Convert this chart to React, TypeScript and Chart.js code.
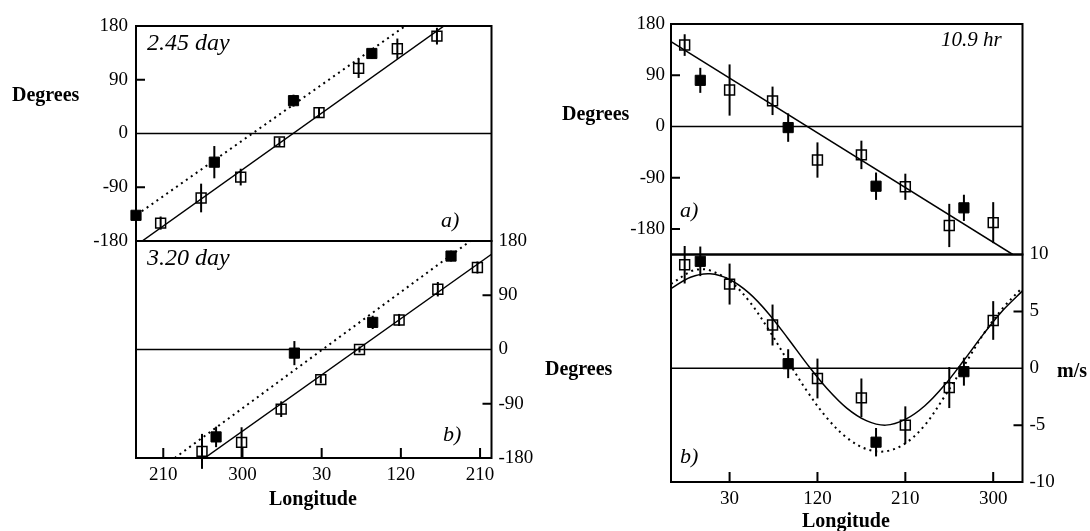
import React, { useEffect, useRef } from "react";
import { Chart, registerables } from "chart.js";

Chart.register(...registerables);

const SERIF = '"Liberation Serif", "Times New Roman", serif';

// ---------- axis ticks ----------
const LEFT_LON_TICKS = [210, 300, 390, 480, 570];
const LEFT_LON_LABELS = ["210", "300", "30", "120", "210"];
const RIGHT_LON_TICKS = [30, 120, 210, 300];
const RIGHT_LON_LABELS = ["30", "120", "210", "300"];
const DEG_TICKS = [-180, -90, 0, 90, 180];
const DEG_LABELS = ["-180", "-90", "0", "90", "180"];
const MS_TICKS = [-10, -5, 0, 5, 10];
const MS_LABELS = ["-10", "-5", "0", "5", "10"];

// ---------- 2.45 day panel (a) ----------
const D245_OPEN_LON = [207, 253, 298, 342, 387, 432, 476, 521];
const D245_OPEN_DEG = [-150, -108, -73, -14, 35, 109, 142, 163];
const D245_OPEN_ERR = [11, 24, 14, 7, 9, 16, 17, 14];
const D245_FILL_LON = [179, 268, 358, 447];
const D245_FILL_DEG = [-137, -48, 55, 134];
const D245_FILL_ERR = [6, 27, 10, 9];
const D245_FIT_LON = [186, 529];
const D245_FIT_DEG = [-180, 180];
const D245_DOT_LON = [180, 485];
const D245_DOT_DEG = [-136, 180];

// ---------- 3.20 day panel (b) ----------
const D320_OPEN_LON = [254, 299, 344, 389, 433, 478, 522, 567];
const D320_OPEN_DEG = [-169, -154, -99, -50, 0, 49, 100, 136];
const D320_OPEN_ERR = [29, 25, 13, 6, 5, 10, 12, 10];
const D320_FILL_LON = [270, 359, 448, 537];
const D320_FILL_DEG = [-145, -6, 45, 155];
const D320_FILL_ERR = [17, 20, 11, 9];
const D320_FIT_LON = [257, 583];
const D320_FIT_DEG = [-180, 158];
const D320_DOT_LON = [223, 559];
const D320_DOT_DEG = [-180, 180];

// ---------- 10.9 hr phase panel (a) ----------
const HR_OPEN_LON = [-16, 30, 74, 120, 165, 210, 255, 300];
const HR_OPEN_DEG = [143, 64, 45, -59, -50, -106, -174, -169];
const HR_OPEN_ERR = [19, 45, 25, 31, 25, 23, 38, 36];
const HR_FILL_LON = [0, 90, 180, 270];
const HR_FILL_DEG = [81, -2, -105, -143];
const HR_FILL_ERR = [22, 25, 24, 23];
const HR_FIT_LON = [-30, 320];
const HR_FIT_DEG = [149, -225];

// ---------- 10.9 hr amplitude panel (b), m/s ----------
const MS_OPEN_VAL = [9.1, 7.4, 3.8, -0.9, -2.6, -5.0, -1.7, 4.2];
const MS_OPEN_ERR = [1.65, 1.8, 1.8, 1.75, 1.7, 1.65, 1.8, 1.7];
const MS_FILL_VAL = [9.4, 0.4, -6.5, -0.3];
const MS_FILL_ERR = [1.3, 1.27, 1.25, 1.23];
const MS_FIT_LON = [-30, -10, 10, 30, 50, 70, 90, 110, 130, 150, 170, 190, 210, 230, 250, 270, 290, 310, 330];
const MS_FIT_VAL = [7.0, 8.0, 8.3, 7.8, 6.6, 4.8, 2.6, 0.3, -1.8, -3.5, -4.6, -5.0, -4.5, -3.3, -1.5, 0.7, 3.0, 5.1, 6.8];
const MS_DOT_LON = [-30, -10, 0, 10, 30, 50, 70, 90, 110, 130, 150, 170, 190, 210, 230, 250, 270, 290, 310, 330];
const MS_DOT_VAL = [7.4, 8.5, 8.7, 8.6, 7.7, 5.9, 3.4, 0.6, -2.1, -4.4, -6.1, -7.1, -7.3, -6.6, -5.0, -2.5, 0.2, 3.0, 5.3, 7.1];

type Series = { lon: number[]; val: number[]; err: number[] };
type LineDef = { lon: number[]; val: number[]; dotted: boolean; tension?: number };
type TextDef = { t: string; x: number; y: number; font: string };
interface PanelCfg {
  area: { left: number; top: number; right: number; bottom: number };
  xMin: number; xMax: number; yMin: number; yMax: number;
  xTicks?: number[]; xLabels?: string[];
  yTicks?: number[]; yLabels?: string[]; ySide: "left" | "right"; yPad: number;
  innerY: number[]; innerX: number[];
  open: Series; filled: Series;
  lines: LineDef[];
  texts: TextDef[];
}

const BOLD = `bold 20px ${SERIF}`;
const ITAL = `italic 24px ${SERIF}`;
const ITAL_S = `italic 22px ${SERIF}`;

const PANELS: PanelCfg[] = [
  {
    area: { left: 136, top: 26, right: 491.5, bottom: 241 },
    xMin: 179, xMax: 583, yMin: -180, yMax: 180,
    yTicks: DEG_TICKS, yLabels: DEG_LABELS, ySide: "left", yPad: 8,
    innerY: [90, -90], innerX: [],
    open: { lon: D245_OPEN_LON, val: D245_OPEN_DEG, err: D245_OPEN_ERR },
    filled: { lon: D245_FILL_LON, val: D245_FILL_DEG, err: D245_FILL_ERR },
    lines: [
      { lon: D245_FIT_LON, val: D245_FIT_DEG, dotted: false },
      { lon: D245_DOT_LON, val: D245_DOT_DEG, dotted: true },
    ],
    texts: [
      { t: "Degrees", x: 12, y: 101, font: BOLD },
      { t: "2.45 day", x: 147, y: 50, font: ITAL },
      { t: "a)", x: 441, y: 227, font: ITAL_S },
    ],
  },
  {
    area: { left: 136, top: 241, right: 491.5, bottom: 458 },
    xMin: 179, xMax: 583, yMin: -180, yMax: 180,
    xTicks: LEFT_LON_TICKS, xLabels: LEFT_LON_LABELS,
    yTicks: DEG_TICKS, yLabels: DEG_LABELS, ySide: "right", yPad: 7,
    innerY: [90, -90], innerX: LEFT_LON_TICKS,
    open: { lon: D320_OPEN_LON, val: D320_OPEN_DEG, err: D320_OPEN_ERR },
    filled: { lon: D320_FILL_LON, val: D320_FILL_DEG, err: D320_FILL_ERR },
    lines: [
      { lon: D320_FIT_LON, val: D320_FIT_DEG, dotted: false },
      { lon: D320_DOT_LON, val: D320_DOT_DEG, dotted: true },
    ],
    texts: [
      { t: "3.20 day", x: 147, y: 265, font: ITAL },
      { t: "b)", x: 443, y: 441, font: ITAL_S },
      { t: "Longitude", x: 269, y: 505, font: BOLD },
    ],
  },
  {
    area: { left: 671, top: 24, right: 1022.5, bottom: 254.5 },
    xMin: -30, xMax: 330, yMin: -225, yMax: 180,
    yTicks: DEG_TICKS, yLabels: DEG_LABELS, ySide: "left", yPad: 6,
    innerY: [90, -90, -180], innerX: [],
    open: { lon: HR_OPEN_LON, val: HR_OPEN_DEG, err: HR_OPEN_ERR },
    filled: { lon: HR_FILL_LON, val: HR_FILL_DEG, err: HR_FILL_ERR },
    lines: [{ lon: HR_FIT_LON, val: HR_FIT_DEG, dotted: false }],
    texts: [
      { t: "Degrees", x: 562, y: 120, font: BOLD },
      { t: "10.9 hr", x: 941, y: 46, font: `italic 21px ${SERIF}` },
      { t: "a)", x: 680, y: 217, font: ITAL_S },
    ],
  },
  {
    area: { left: 671, top: 254.5, right: 1022.5, bottom: 482 },
    xMin: -30, xMax: 330, yMin: -10, yMax: 10,
    xTicks: RIGHT_LON_TICKS, xLabels: RIGHT_LON_LABELS,
    yTicks: MS_TICKS, yLabels: MS_LABELS, ySide: "right", yPad: 7,
    innerY: [5, -5], innerX: RIGHT_LON_TICKS,
    open: { lon: HR_OPEN_LON, val: MS_OPEN_VAL, err: MS_OPEN_ERR },
    filled: { lon: HR_FILL_LON, val: MS_FILL_VAL, err: MS_FILL_ERR },
    lines: [
      { lon: MS_FIT_LON, val: MS_FIT_VAL, dotted: false, tension: 0.35 },
      { lon: MS_DOT_LON, val: MS_DOT_VAL, dotted: true, tension: 0.35 },
    ],
    texts: [
      { t: "Degrees", x: 545, y: 375, font: BOLD },
      { t: "m/s", x: 1057, y: 377, font: BOLD },
      { t: "b)", x: 680, y: 463, font: ITAL_S },
      { t: "Longitude", x: 802, y: 527, font: BOLD },
    ],
  },
];

function makePlugin(c: PanelCfg) {
  return {
    id: "panelDecor",
    beforeDatasetsDraw(chart: any) {
      const { ctx, chartArea: ca, scales } = chart;
      const xs = scales.x;
      const ys = scales.y;
      ctx.save();
      ctx.strokeStyle = "#000";
      ctx.lineWidth = 1.5;
      const y0 = ys.getPixelForValue(0);
      ctx.beginPath();
      ctx.moveTo(ca.left, y0);
      ctx.lineTo(ca.right, y0);
      ctx.stroke();
      ctx.lineWidth = 2;
      for (const s of [c.open, c.filled]) {
        s.lon.forEach((lon, i) => {
          const px = xs.getPixelForValue(lon);
          ctx.beginPath();
          ctx.moveTo(px, ys.getPixelForValue(s.val[i] - s.err[i]));
          ctx.lineTo(px, ys.getPixelForValue(s.val[i] + s.err[i]));
          ctx.stroke();
        });
      }
      ctx.restore();
    },
    afterDraw(chart: any) {
      const { ctx, chartArea: ca, scales } = chart;
      const xs = scales.x;
      const ys = scales.y;
      ctx.save();
      ctx.strokeStyle = "#000";
      ctx.lineWidth = 2;
      ctx.strokeRect(ca.left, ca.top, ca.right - ca.left, ca.bottom - ca.top);
      const TL = 9;
      ctx.beginPath();
      for (const v of c.innerY) {
        const py = ys.getPixelForValue(v);
        if (c.ySide === "left") {
          ctx.moveTo(ca.left, py);
          ctx.lineTo(ca.left + TL, py);
        } else {
          ctx.moveTo(ca.right, py);
          ctx.lineTo(ca.right - TL, py);
        }
      }
      for (const v of c.innerX) {
        const px = xs.getPixelForValue(v);
        ctx.moveTo(px, ca.bottom);
        ctx.lineTo(px, ca.bottom - TL - 1);
      }
      ctx.stroke();
      ctx.fillStyle = "#000";
      ctx.textBaseline = "alphabetic";
      ctx.textAlign = "left";
      for (const t of c.texts) {
        ctx.font = t.font;
        ctx.fillText(t.t, t.x, t.y);
      }
      ctx.restore();
    },
  };
}

function buildChart(canvas: HTMLCanvasElement, c: PanelCfg) {
  const YW = 60;
  const XH = 35;
  const hasX = !!c.xTicks;
  const padding = {
    left: c.area.left - (c.ySide === "left" ? YW : 0),
    right: 1090 - c.area.right - (c.ySide === "right" ? YW : 0),
    top: c.area.top,
    bottom: 531 - c.area.bottom - (hasX ? XH : 0),
  };
  const datasets: any[] = [];
  datasets.push({
    data: c.open.lon.map((x, i) => ({ x, y: c.open.val[i] })),
    pointStyle: "rect",
    pointRadius: 7,
    backgroundColor: "rgba(0,0,0,0)",
    borderColor: "#000",
    borderWidth: 1.5,
    clip: false,
  });
  datasets.push({
    data: c.filled.lon.map((x, i) => ({ x, y: c.filled.val[i] })),
    pointStyle: "rect",
    pointRadius: 7.2,
    backgroundColor: "#000",
    borderColor: "#000",
    borderWidth: 1,
    clip: false,
  });
  for (const l of c.lines) {
    datasets.push({
      data: l.lon.map((x, i) => ({ x, y: l.val[i] })),
      showLine: true,
      pointRadius: 0,
      borderColor: "#000",
      borderWidth: l.dotted ? 2 : 1.5,
      borderDash: l.dotted ? [2, 4] : [],
      tension: l.tension || 0,
      fill: false,
    });
  }
  const tickFont = { family: SERIF, size: 19 };
  return new Chart(canvas, {
    type: "scatter",
    data: { datasets },
    options: {
      responsive: false,
      animation: false,
      devicePixelRatio: 1,
      events: [],
      layout: { padding },
      plugins: { legend: { display: false }, tooltip: { enabled: false } },
      scales: {
        x: {
          type: "linear",
          position: "bottom",
          min: c.xMin,
          max: c.xMax,
          display: hasX,
          afterBuildTicks: (s: any) => {
            if (hasX) s.ticks = (c.xTicks as number[]).map((v) => ({ value: v }));
          },
          afterFit: (s: any) => {
            if (hasX) s.height = XH;
          },
          ticks: {
            font: tickFont,
            color: "#000",
            padding: 6,
            maxRotation: 0,
            autoSkip: false,
            callback: (v: any) => {
              const i = (c.xTicks || []).indexOf(Number(v));
              return i >= 0 ? (c.xLabels as string[])[i] : "";
            },
          },
          grid: { display: false, drawTicks: false, tickLength: 0 },
          border: { display: false },
        },
        y: {
          type: "linear",
          position: c.ySide,
          min: c.yMin,
          max: c.yMax,
          display: true,
          afterBuildTicks: (s: any) => {
            s.ticks = (c.yTicks as number[]).map((v) => ({ value: v }));
          },
          afterFit: (s: any) => {
            s.width = YW;
          },
          ticks: {
            font: tickFont,
            color: "#000",
            padding: c.yPad,
            autoSkip: false,
            callback: (v: any) => {
              const i = (c.yTicks || []).indexOf(Number(v));
              return i >= 0 ? (c.yLabels as string[])[i] : "";
            },
          },
          grid: { display: false, drawTicks: false, tickLength: 0 },
          border: { display: false },
        },
      },
    } as any,
    plugins: [makePlugin(c) as any],
  });
}

export default function App() {
  const holder = useRef<(HTMLCanvasElement | null)[]>([]);
  useEffect(() => {
    const charts = PANELS.map((p, i) => buildChart(holder.current[i] as HTMLCanvasElement, p));
    return () => charts.forEach((ch) => ch.destroy());
  }, []);
  return (
    <div style={{ position: "fixed", left: 0, top: 0, width: 1090, height: 531, background: "#fff", overflow: "hidden" }}>
      {PANELS.map((_, i) => (
        <canvas
          key={i}
          ref={(el) => {
            holder.current[i] = el;
          }}
          width={1090}
          height={531}
          style={{ position: "absolute", left: 0, top: 0 }}
        />
      ))}
    </div>
  );
}
